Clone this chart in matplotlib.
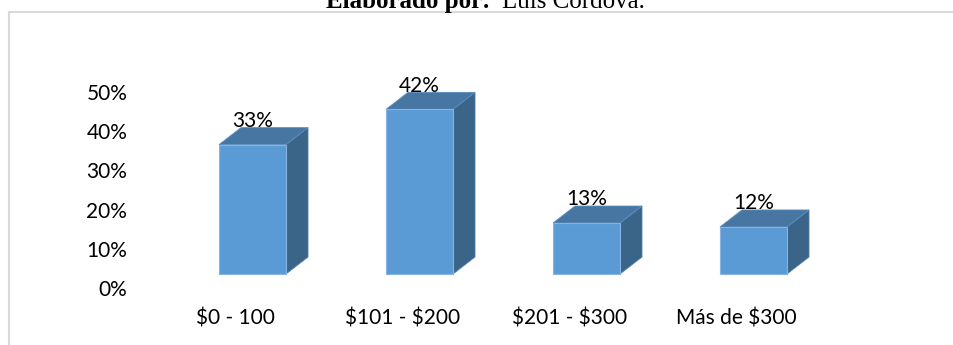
import matplotlib.pyplot as plt
from matplotlib.patches import Polygon
from matplotlib.lines import Line2D
from matplotlib.transforms import ScaledTranslation

plt.rcParams["text.parse_math"] = False
plt.rcParams["font.family"] = ["Lato", "DejaVu Sans"]

categories = ["$0 - 100", "$101 - $200", "$201 - $300", "Más de $300"]
values = [33, 42, 13, 12]
yticks = [0, 10, 20, 30, 40, 50]
ytick_labels = ["0%", "10%", "20%", "30%", "40%", "50%"]

W, H = 954, 345
fig = plt.figure(figsize=(W / 100, H / 100), dpi=100)

# pixel layout of the plot area
x0, step = 252.5, 167.0      # px of first category, px per category
y0, ppv = 274.0, 3.92        # px of value 0 (from top), px per percent
xlim = (-0.75, 3.9)
ylim = (-6, 56)
left = x0 + xlim[0] * step
right = x0 + xlim[1] * step
top = y0 - ylim[1] * ppv
bottom = y0 - ylim[0] * ppv
ax = fig.add_axes([left / W, 1 - bottom / H, (right - left) / W, (bottom - top) / H])
ax.set_xlim(*xlim)
ax.set_ylim(*ylim)
for s in ax.spines.values():
    s.set_visible(False)

bar_w = 67 / step
dx = 22 / step
dy = 17 / ppv
front_c = "#5b9bd5"
top_c = "#4776a3"
side_c = "#3a6488"
fs = 15

for i, v in enumerate(values):
    xl = i - bar_w / 2
    xr = i + bar_w / 2
    front = Polygon([(xl, 0), (xr, 0), (xr, v), (xl, v)], closed=True,
                    facecolor=front_c, edgecolor="#86b3e3", linewidth=0.8, zorder=3)
    topf = Polygon([(xl, v), (xr, v), (xr + dx, v + dy), (xl + dx, v + dy)], closed=True,
                   facecolor=top_c, edgecolor="#5a8cbf", linewidth=0.6, zorder=2)
    side = Polygon([(xr, 0), (xr + dx, dy), (xr + dx, v + dy), (xr, v)], closed=True,
                   facecolor=side_c, edgecolor="#4f7fae", linewidth=0.6, zorder=2)
    for p in (side, topf, front):
        ax.add_patch(p)
    ax.text(i, v + dy + 0.2, f"{v}%", ha="center", va="baseline",
            fontsize=fs, color="#000000", zorder=4)

ax.set_yticks(yticks)
ax.set_yticklabels(ytick_labels, fontsize=fs)
ax.tick_params(axis="y", length=0, pad=0)
ax.set_xticks(range(len(categories)))
ax.set_xticklabels(categories, fontsize=fs)
ax.tick_params(axis="x", length=0, pad=8)

yoff = ScaledTranslation(0, -14 / 100, fig.dpi_scale_trans)
for lbl in ax.get_yticklabels():
    lbl.set_transform(lbl.get_transform() + yoff)
xoff = ScaledTranslation(-17 / 100, 0, fig.dpi_scale_trans)
for lbl in ax.get_xticklabels():
    lbl.set_transform(lbl.get_transform() + xoff)

# outer frame
fig.add_artist(Line2D([9 / W, 1], [1 - 12 / H, 1 - 12 / H], color="#d9d9d9", linewidth=1.5))
fig.add_artist(Line2D([9 / W, 9 / W], [0, 1 - 12 / H], color="#d9d9d9", linewidth=1.5))

# title, partly cut at the top edge
fig.text(490 / W, 1 - 8 / H, "Elaborado por:", ha="right", va="baseline",
         fontsize=18, fontweight="bold", family="Liberation Serif")
fig.text(502 / W, 1 - 8 / H, "Luis Córdova.", ha="left", va="baseline",
         fontsize=18, family="Liberation Serif")

fig.savefig("out.png", dpi=100)
